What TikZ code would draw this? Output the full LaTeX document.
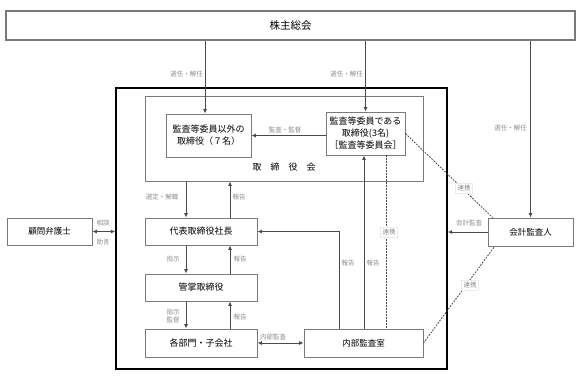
\documentclass[tikz,border=0pt]{standalone}
\usepackage{fontspec}
\setmainfont{Noto Sans CJK JP}
\usetikzlibrary{arrows.meta}
\definecolor{boxgray}{HTML}{7A7A7A}
\definecolor{linegray}{HTML}{4A4A4A}
\definecolor{labelgray}{HTML}{8C8C8C}

\begin{document}
\begin{tikzpicture}[x=1pt, y=-1pt,
  box/.style={draw=boxgray, line width=0.9pt, fill=white, align=center, inner sep=0pt, font=\fontsize{9}{12}\selectfont},
  arr/.style={draw=linegray, line width=0.9pt, -{Latex[length=4.5pt,width=4pt]}},
  both/.style={arr, {Latex[length=4.5pt,width=4pt]}-{Latex[length=4.5pt,width=4pt]}},
  link/.style={draw=linegray, line width=0.8pt, dash pattern=on 1.8pt off 1.2pt},
  lbl/.style={text=labelgray, font=\fontsize{6.5}{8}\selectfont, inner sep=1pt},
  lblbox/.style={lbl, fill=white, draw=black!8, inner sep=2pt}]
\useasboundingbox (0,0) rectangle (578,384);

% frames
\node[box, draw=boxgray, line width=1.4pt, minimum width=569pt, minimum height=29pt, font=\fontsize{10.5}{12}\selectfont] (soukai) at (290.5,25.5) {株主総会};
\node[draw=black, line width=1.4pt, minimum width=331pt, minimum height=281pt, inner sep=0pt] (outer) at (281.5,228.5) {};
\node[box, minimum width=278pt, minimum height=85pt] (torikai) at (284,138.5) {};
\node[font=\fontsize{9}{12}\selectfont] (torikailbl) at (284,167) {取　締　役　会};

% boxes
\node[box, minimum width=85pt, minimum height=43pt] (igai) at (208.5,135.5) {監査等委員以外の\\取締役（７名）};
\node[box, minimum width=79pt, minimum height=43pt] (kansa) at (365.5,133.5) {監査等委員である\\取締役(3名)\\［監査等委員会］};
\node[box, minimum width=112pt, minimum height=27pt] (daihyo) at (201,231.5) {代表取締役社長};
\node[box, minimum width=112pt, minimum height=27pt] (kansho) at (201,287.5) {管掌取締役};
\node[box, minimum width=112pt, minimum height=28pt] (kakubu) at (201,343) {各部門・子会社};
\node[box, minimum width=119pt, minimum height=28pt, font=\fontsize{8.5}{12}\selectfont] (naibu) at (363.5,343) {内部監査室};
\node[box, minimum width=85pt, minimum height=27pt, font=\fontsize{8.5}{12}\selectfont] (komon) at (49.5,231.5) {顧問弁護士};
\node[box, minimum width=85pt, minimum height=28pt, font=\fontsize{8.5}{12}\selectfont] (kaikei) at (530.5,232) {会計監査人};

% columns of the arrows
\coordinate (dn) at (186,0);
\coordinate (up) at (230,0);
\coordinate (rp) at (339,0);
\coordinate (kp) at (364,0);
\coordinate (dp) at (386,0);
\coordinate (sx) at (205,0);

% arrows
\draw[arr] (soukai.south -| sx) -- (igai.north -| sx);
\draw[arr] (soukai.south -| kansa.north) -- (kansa.north);
\draw[arr] (soukai.south -| kaikei.north) -- (kaikei.north);
\draw[arr] (kansa.west |- igai.east) -- (igai.east);
\draw[arr] (torikai.south -| dn) -- (daihyo.north -| dn);
\draw[arr] (daihyo.north -| up) -- (torikai.south -| up);
\draw[arr] (daihyo.south -| dn) -- (kansho.north -| dn);
\draw[arr] (kansho.north -| up) -- (daihyo.south -| up);
\draw[arr] (kansho.south -| dn) -- (kakubu.north -| dn);
\draw[arr] (kakubu.north -| up) -- (kansho.south -| up);
\draw[both] (komon.east) -- (komon.east -| outer.west);
\draw[arr] (kaikei.west) -- (kaikei.west -| outer.east);
\draw[arr] (naibu.north -| rp) |- (daihyo.east);
\draw[arr] (naibu.north -| kp) -- (kansa.south -| kp);
\draw[both] (kakubu.east) -- (naibu.west);
\draw[link] (kansa.south -| dp) -- (naibu.north -| dp);
\draw[link] (kansa.east) -- ([xshift=5pt]kaikei.north west);
\draw[link] (naibu.east) -- ([xshift=7pt]kaikei.south west);

% labels
\node[lbl, anchor=east] at (204,74) {選任・解任};
\node[lbl, anchor=east] at (364,74) {選任・解任};
\node[lbl, anchor=east] at (528,128) {選任・解任};
\node[lbl] at (285,130) {監査・監督};
\node[lbl] at (162,197) {選定・解職};
\node[lbl] at (239,197) {報告};
\node[lbl] at (173,259) {指示};
\node[lbl] at (240,259) {報告};
\node[lbl, align=center] at (173,316) {指示\\監督};
\node[lbl] at (240,317) {報告};
\node[lbl] at (103,223) {相談};
\node[lbl] at (103,242) {助言};
\node[lbl] at (469,223) {会計監査};
\node[lbl] at (273,337) {内部監査};
\node[lbl] at (348,263) {報告};
\node[lbl] at (373,263) {報告};
\node[lblbox] at (389,232) {連携};
\node[lblbox] at (464,188) {連携};
\node[lblbox] at (470,285) {連携};
\end{tikzpicture}
\end{document}
